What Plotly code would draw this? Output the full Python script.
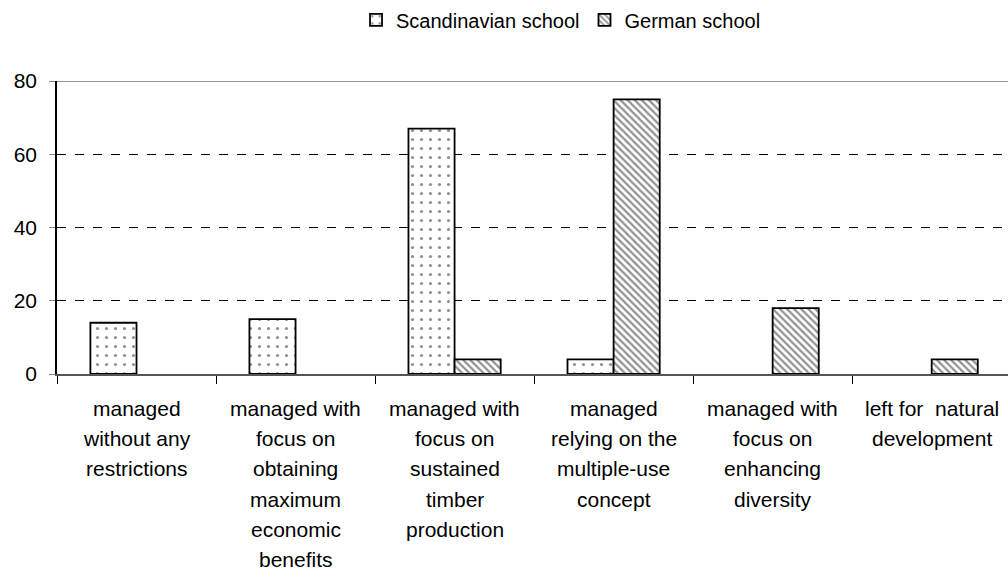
import plotly.graph_objects as go

# Forest management preferences by school of thought (%)
categories = [
    "managed<br>without any<br>restrictions",
    "managed with<br>focus on<br>obtaining<br>maximum<br>economic<br>benefits",
    "managed with<br>focus on<br>sustained<br>timber<br>production",
    "managed<br>relying on the<br>multiple-use<br>concept",
    "managed with<br>focus on<br>enhancing<br>diversity",
    "left for  natural<br>development",
]
cat_keys = [f"c{i}" for i in range(len(categories))]
scandinavian = [14, 15, 67, 4, 0, 0]
german = [0, 0, 4, 75, 18, 4]
y_ticks = [0, 20, 40, 60, 80]

FONT = "Liberation Sans, Arial, sans-serif"


def drawn(values):
    # zero shares are left out so no empty outline sits on the baseline
    return [v if v else None for v in values]


fig = go.Figure()
fig.add_trace(go.Bar(
    name="Scandinavian school", x=cat_keys, y=drawn(scandinavian),
    marker=dict(color="white", line=dict(color="black", width=1.8),
                pattern=dict(shape=".", fgcolor="#222", bgcolor="white",
                             size=9, solidity=0.1)),
))
fig.add_trace(go.Bar(
    name="German school", x=cat_keys, y=drawn(german),
    marker=dict(color="white", line=dict(color="black", width=1.8),
                pattern=dict(shape="\\", fgcolor="#222", bgcolor="white",
                             size=5, solidity=0.45)),
))

# multi-line category labels, one annotation per line for wider line spacing
annotations = []
for key, label in zip(cat_keys, categories):
    for i, line in enumerate(label.split("<br>")):
        annotations.append(dict(
            x=key, xref="x", y=0, yref="y", yanchor="top", xanchor="center",
            text=line, showarrow=False, yshift=-21 - 30.2 * i,
            font=dict(family=FONT, size=21, color="black"),
        ))

fig.update_layout(
    width=1008, height=571,
    margin=dict(l=57, r=0, t=81, b=197),
    paper_bgcolor="white", plot_bgcolor="white",
    barmode="group", bargap=0.42, bargroupgap=0,
    font=dict(family=FONT, size=20, color="black"),
    legend=dict(orientation="h", x=0.53, xanchor="center", y=1.275,
                yanchor="top", font=dict(size=20), itemwidth=30,
                traceorder="normal"),
    annotations=annotations,
    shapes=[dict(type="line", xref="paper", yref="y", x0=0, x1=1,
                 y0=80, y1=80, line=dict(color="#999", width=2))],
)
fig.update_xaxes(
    range=[-0.5, 5.48], showticklabels=False,
    showline=True, linecolor="#555", linewidth=2,
    ticks="outside", tickson="boundaries", ticklen=8,
    tickcolor="black", tickwidth=1, showgrid=False,
)
fig.update_yaxes(
    range=[0, 80], tickvals=y_ticks,
    showline=True, linecolor="black", linewidth=1.5,
    ticks="outside", ticklen=6, tickcolor="#888",
    showgrid=True, gridcolor="black", griddash="dash", gridwidth=1,
    zeroline=False, tickfont=dict(size=21), ticklabelstandoff=8,
)

fig.write_html("out.html")
